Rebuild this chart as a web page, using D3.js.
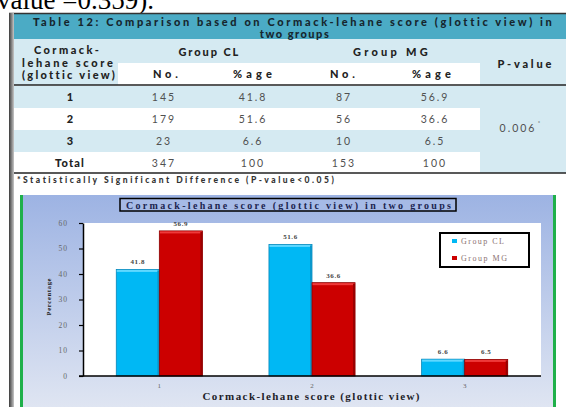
<!DOCTYPE html>
<html>
<head>
<meta charset="utf-8">
<script src="https://cdnjs.cloudflare.com/ajax/libs/d3/7.8.5/d3.min.js"></script>
<style>
body { margin: 0; background: #fff; overflow: hidden; }
</style>
</head>
<body>
<div id="chart"></div>
<script>
var w = 566;
var h = 407;

// table data
var scores = ["1", "2", "3", "Total"];
var clNo = ["145", "179", "23", "347"];
var clPct = ["41.8", "51.6", "6.6", "100"];
var mgNo = ["87", "56", "10", "153"];
var mgPct = ["56.9", "36.6", "6.5", "100"];
var pValue = "0.006";

// chart data
var categories = ["1", "2", "3"];
var seriesNames = ["Group CL", "Group MG"];
var groupCL = [41.8, 51.6, 6.6];
var groupMG = [56.9, 36.6, 6.5];
var yTicks = [0, 10, 20, 30, 40, 50, 60];
var colors = ["#00b8f4", "#cc0000"];

var svg = d3.select("#chart")
    .append("svg")
    .attr("width", w)
    .attr("height", h);

var defs = svg.append("defs");
var bg = defs.append("linearGradient").attr("id", "bg")
    .attr("x1", 0).attr("y1", 0).attr("x2", 0).attr("y2", 1);
bg.append("stop").attr("offset", "0%").attr("stop-color", "#9db3e3");
bg.append("stop").attr("offset", "100%").attr("stop-color", "#dfe5f2");
var sh = defs.append("linearGradient").attr("id", "sh")
    .attr("x1", 0).attr("y1", 0).attr("x2", 1).attr("y2", 0);
sh.append("stop").attr("offset", "0%").attr("stop-color", "#3a3a3a");
sh.append("stop").attr("offset", "100%").attr("stop-color", "#c8c8c8");

// text cut off above the table (as in the source page)
svg.append("text")
    .attr("x", -3).attr("y", 9)
    .attr("font-family", "Liberation Serif, serif")
    .attr("font-size", 27)
    .attr("fill", "#000")
    .text("value =0.359).");

// ---------- table ----------
var tf = "Lato, sans-serif";
svg.append("rect").attr("x", 13).attr("y", 14).attr("width", 560).attr("height", 25).attr("fill", "#4babc5");
svg.append("rect").attr("x", 13).attr("y", 39).attr("width", 560).attr("height", 46).attr("fill", "#d5eaf2");
svg.append("rect").attr("x", 118).attr("y", 63).attr("width", 362).attr("height", 22).attr("fill", "#fff");

var rowTop = [86, 108, 130, 152];
var rowH = 22;
rowTop.forEach(function(t, i) {
    svg.append("rect").attr("x", 13).attr("y", t).attr("width", 467).attr("height", rowH)
        .attr("fill", i % 2 == 0 ? "#d5eaf2" : "#fff");
});
svg.append("rect").attr("x", 480).attr("y", 85).attr("width", 93).attr("height", 88).attr("fill", "#d5eaf2");

svg.append("line").attr("x1", 9).attr("x2", 566).attr("y1", 13.5).attr("y2", 13.5).attr("stroke", "#333").attr("stroke-width", 1.5);
svg.append("line").attr("x1", 13).attr("x2", 566).attr("y1", 85).attr("y2", 85).attr("stroke", "#222").attr("stroke-width", 1.6);
svg.append("line").attr("x1", 13).attr("x2", 566).attr("y1", 173).attr("y2", 173).attr("stroke", "#222").attr("stroke-width", 1.6);

function ttext(x, y, s, opts) {
    opts = opts || {};
    var t = svg.append("text")
        .attr("x", x).attr("y", y)
        .attr("text-anchor", opts.anchor || "middle")
        .attr("font-family", tf)
        .attr("font-size", opts.size || 11)
        .attr("font-weight", opts.weight || 900)
        .attr("letter-spacing", opts.ls != null ? opts.ls : 1.2)
        .attr("fill", opts.fill || "#222")
        .text(s);
    if (opts.len) t.attr("textLength", opts.len).attr("lengthAdjust", "spacing");
    return t;
}

ttext(293, 26, "Table 12: Comparison based on Cormack-lehane score (glottic view) in", {len: 520, fill: "#16262e"});
ttext(295, 37.5, "two groups", {fill: "#16262e", ls: 1.5});
ttext(67, 54, "Cormack-", {len: 66});
ttext(68, 67, "lehane score", {len: 92});
ttext(69, 79, "(glottic view)", {len: 94});
ttext(209, 56, "Group CL", {len: 61});
ttext(391, 56, "Group MG", {len: 76});
ttext(525, 68, "P-value", {len: 55});
ttext(166, 78, "No.", {len: 26});
ttext(253, 78, "%age", {len: 40});
ttext(343, 78, "No.", {len: 26});
ttext(432, 78, "%age", {len: 40});

scores.forEach(function(s, i) {
    var yy = rowTop[i] + 14.5;
    ttext(70, yy, s, {ls: s == "Total" ? 1.2 : 0});
    ttext(164, yy, clNo[i], {weight: 400, fill: "#505050", ls: 2, size: 10.5});
    ttext(253, yy, clPct[i], {weight: 400, fill: "#505050", ls: 2, size: 10.5});
    ttext(344, yy, mgNo[i], {weight: 400, fill: "#505050", ls: 2, size: 10.5});
    ttext(435, yy, mgPct[i], {weight: 400, fill: "#505050", ls: 2, size: 10.5});
});
ttext(518, 132, pValue, {weight: 400, fill: "#505050", ls: 2, size: 10.5});
ttext(539, 125, "*", {weight: 400, fill: "#505050", size: 6, ls: 0});

ttext(17, 183, "*Statistically Significant Difference (P-value<0.05)", {anchor: "start", size: 8.5, len: 318, fill: "#333"});

// left frame shadow
svg.append("rect").attr("x", 9).attr("y", 13).attr("width", 5).attr("height", h - 13).attr("fill", "url(#sh)");

// ---------- chart ----------
svg.append("rect").attr("x", 22).attr("y", 195).attr("width", 531).attr("height", h - 195).attr("fill", "url(#bg)");
svg.append("rect").attr("x", 20).attr("y", 195).attr("width", 3).attr("height", h - 195).attr("fill", "#1fb04a");
svg.append("rect").attr("x", 553).attr("y", 195).attr("width", 3).attr("height", h - 195).attr("fill", "#1fb04a");

// title box
svg.append("rect").attr("x", 120).attr("y", 198.5).attr("width", 336).attr("height", 12.5)
    .attr("fill", "#a6bae6").attr("stroke", "#000").attr("stroke-width", 1.5);
svg.append("text")
    .attr("x", 126).attr("y", 208.5)
    .attr("font-family", "Liberation Serif, serif")
    .attr("font-size", 10).attr("font-weight", 700)
    .attr("fill", "#1c2550")
    .attr("textLength", 325).attr("lengthAdjust", "spacing")
    .text("Cormack-lehane score (glottic view) in two groups");

var x0 = d3.scaleBand().domain(categories).range([83, 541]).paddingInner(0.436).paddingOuter(0.218);
var x1 = d3.scaleBand().domain(seriesNames).range([0, x0.bandwidth()]);
var y = d3.scaleLinear().domain([0, 60]).range([376, 223]);

// plot area
svg.append("rect").attr("x", 83).attr("y", 223).attr("width", 458).attr("height", 153).attr("fill", "#fff");

var rows = categories.map(function(c, i) {
    return {cat: c, values: [{key: seriesNames[0], v: groupCL[i], c: 0}, {key: seriesNames[1], v: groupMG[i], c: 1}]};
});

var g = svg.selectAll("g.cat")
    .data(rows)
    .enter()
    .append("g")
    .attr("class", "cat")
    .attr("transform", function(d) { return "translate(" + x0(d.cat) + ",0)"; });

var bars = g.selectAll("g.bar")
    .data(function(d) { return d.values; })
    .enter()
    .append("g")
    .attr("class", "bar");

bars.append("rect")
    .attr("x", function(d) { return x1(d.key); })
    .attr("y", function(d) { return y(d.v); })
    .attr("width", x1.bandwidth())
    .attr("height", function(d) { return y(0) - y(d.v); })
    .attr("fill", function(d) { return colors[d.c]; })
    .attr("stroke", function(d) { return d.c == 0 ? "#0a86b8" : "#8a0000"; })
    .attr("stroke-width", 0.8);
// light top edge
bars.append("rect")
    .attr("x", function(d) { return x1(d.key) + 0.5; })
    .attr("y", function(d) { return y(d.v) + 0.5; })
    .attr("width", x1.bandwidth() - 1)
    .attr("height", 2)
    .attr("fill", function(d) { return d.c == 0 ? "#5fd8ff" : "#ee3a3a"; });
// dark right edge
bars.append("rect")
    .attr("x", function(d) { return x1(d.key) + x1.bandwidth() - 2; })
    .attr("y", function(d) { return y(d.v) + 1; })
    .attr("width", 2)
    .attr("height", function(d) { return y(0) - y(d.v) - 1; })
    .attr("fill", function(d) { return d.c == 0 ? "#0a98cc" : "#9a0000"; });

bars.append("text")
    .attr("x", function(d) { return x1(d.key) + x1.bandwidth() / 2; })
    .attr("y", function(d) { return y(d.v) - 5; })
    .attr("text-anchor", "middle")
    .attr("font-family", "Liberation Serif, serif")
    .attr("font-size", 7).attr("font-weight", 700)
    .attr("letter-spacing", 0.6)
    .attr("fill", "#444")
    .text(function(d) { return d.v; });

// axes
var yAxis = svg.append("g")
    .attr("transform", "translate(83,0)")
    .call(d3.axisLeft(y).tickValues(yTicks).tickSize(4).tickSizeOuter(0).tickPadding(11));
yAxis.select(".domain").attr("stroke", "#000").attr("stroke-width", 1.5);
yAxis.selectAll(".tick line").attr("stroke", "#000").attr("stroke-width", 1.2);
yAxis.selectAll(".tick text")
    .attr("font-family", "Liberation Serif, serif")
    .attr("font-size", 7.5).attr("letter-spacing", 1)
    .attr("fill", "#666");

var xAxis = svg.append("g")
    .attr("transform", "translate(0,376)")
    .call(d3.axisBottom(x0).tickSize(0).tickSizeOuter(0).tickPadding(7));
xAxis.select(".domain").attr("stroke", "#000").attr("stroke-width", 1.5).attr("d", "M79,0H541");
xAxis.selectAll(".tick text")
    .attr("font-family", "Liberation Serif, serif")
    .attr("font-size", 7)
    .attr("fill", "#666");

svg.append("text")
    .attr("transform", "translate(51,297) rotate(-90)")
    .attr("text-anchor", "middle")
    .attr("font-family", "Liberation Serif, serif")
    .attr("font-size", 6.5).attr("font-weight", 700)
    .attr("fill", "#222")
    .attr("textLength", 37).attr("lengthAdjust", "spacing")
    .text("Percentage");

svg.append("text")
    .attr("x", 311).attr("y", 400)
    .attr("text-anchor", "middle")
    .attr("font-family", "Liberation Serif, serif")
    .attr("font-size", 11).attr("font-weight", 700)
    .attr("fill", "#1e1e2a")
    .attr("textLength", 217).attr("lengthAdjust", "spacing")
    .text("Cormack-lehane score (glottic view)");

// legend
svg.append("rect").attr("x", 440).attr("y", 233).attr("width", 89).attr("height", 34)
    .attr("fill", "#fff").attr("stroke", "#000").attr("stroke-width", 2);
var lg = svg.selectAll("g.leg")
    .data(seriesNames)
    .enter()
    .append("g")
    .attr("class", "leg")
    .attr("transform", function(d, i) { return "translate(452," + (241 + i * 17) + ")"; });
lg.append("rect").attr("x", 0).attr("y", -2).attr("width", 5).attr("height", 4)
    .attr("fill", function(d, i) { return colors[i]; });
lg.append("text")
    .attr("x", 9).attr("y", 2.5)
    .attr("font-family", "Liberation Serif, serif")
    .attr("font-size", 8)
    .attr("fill", "#8a7272")
    .attr("textLength", function(d, i) { return i == 0 ? 43 : 46; })
    .attr("lengthAdjust", "spacing")
    .text(function(d) { return d; });
</script>
</body>
</html>
